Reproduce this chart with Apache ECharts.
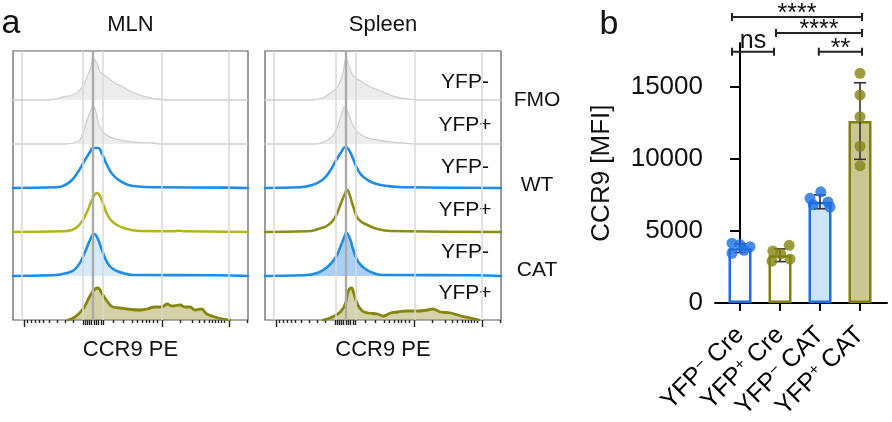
<!DOCTYPE html>
<html>
<head>
<meta charset="utf-8">
<script src="https://cdn.jsdelivr.net/npm/echarts@6.0.0/dist/echarts.min.js"></script>
<style>
html,body{margin:0;padding:0;background:#ffffff;}
#chart{width:892px;height:422px;}
</style>
</head>
<body>
<div id="chart"></div>
<script>
// ---------------- Panel a: CCR9 PE histograms ----------------
// x = display channel (0..235 across the plot box), y = relative cell count (0..44 per row)
const panelTitles = ['MLN', 'Spleen'];
const rowLabels = ['YFP-', 'YFP+', 'YFP-', 'YFP+', 'YFP-', 'YFP+'];
const groupLabels = ['FMO', 'WT', 'CAT'];
const axisTitle = 'CCR9 PE';
const gridLinesX = [9, 70, 80, 90, 149, 216];
const minorTicksX = [14, 18, 22, 26, 30, 36, 44, 52, 60, 100, 110, 119, 124, 129, 133, 136, 140, 144, 167, 179, 186, 191, 196, 199, 202, 205, 208, 211, 234];
const midTicksX = [70, 72, 74, 76, 78, 81, 83, 85, 88, 90];
const majorTicksX = [11, 149, 216];

const mlnFmoNeg = [[0,0],[35,0],[50,3],[62,6],[69,13],[74,23],[78,33],[80,41],[84,37],[87,28],[94,23],[102,17],[110,13],[119,8],[127,5],[137,2],[144,1],[157,0],[235,0]];
const mlnFmoPos = [[0,0],[52,0],[64,2],[70,11],[74,24],[78,34],[80,38],[83,32],[86,19],[90,12],[97,7],[107,4],[120,2],[140,1],[147,0],[235,0]];
const mlnWtNeg  = [[0,0],[44,0.7],[52,3],[59,8],[65,16],[72,28],[77,36],[80,40],[85,40],[89,34],[94,23],[100,13],[109,6],[120,2],[144,0.7],[214,0.4],[235,0]];
const mlnWtPos  = [[0,0],[49,0.7],[59,2],[67,8],[74,20],[79,32],[84,39],[87,36],[92,23],[97,13],[104,7],[114,3],[127,1],[160,0.7],[166,1.2],[172,0.7],[235,0]];
const mlnCatNeg = [[0,0],[37,0.7],[54,3],[64,9],[72,24],[77,36],[81,42],[84,39],[89,26],[94,14],[100,7],[110,3],[120,1],[204,0.7],[235,0]];
const mlnCatPos = [[55,0],[62,3],[70,11],[77,24],[82,31],[85,32],[88,28],[94,19],[100,13],[107,12],[114,11],[127,10],[134,11],[142,13],[149,13],[154,16],[159,14],[167,15],[172,13],[177,13],[182,10],[188,11],[194,6],[202,3],[210,1],[217,0]];

const splFmoNeg = [[0,0],[47,0],[57,2],[65,7],[72,13],[77,25],[81,41],[84,33],[88,24],[97,18],[105,13],[115,9],[125,5],[135,2],[147,0.7],[152,0],[235,0]];
const splFmoPos = [[0,0],[50,0],[60,3],[68,9],[73,20],[77,32],[79,37],[82,33],[87,20],[92,12],[100,7],[112,4],[125,2],[142,0.7],[148,0],[235,0]];
const splWtNeg  = [[0,0],[35,0.7],[47,3],[57,8],[64,16],[71,28],[76,36],[80,41],[83,39],[87,31],[92,19],[98,11],[108,5],[122,2],[138,0.7],[235,0]];
const splWtPos  = [[0,0],[42,0.7],[53,3],[63,7],[70,15],[75,27],[79,37],[82,42],[84,38],[88,25],[93,13],[102,7],[112,3],[125,1],[235,0]];
const splCatNeg = [[0,0],[38,0.7],[52,3],[62,9],[70,18],[75,29],[79,39],[81,43],[84,39],[88,26],[93,14],[100,7],[108,3],[118,1],[208,0.7],[235,0]];
const splCatPos = [[58,0],[67,3],[75,8],[80,16],[83,29],[86,32],[88,28],[92,16],[97,9],[103,7],[112,6],[118,4],[125,7],[132,8],[142,9],[152,9],[162,10],[167,11],[175,8],[185,7],[195,4],[205,2],[213,0]];

// ---------------- Panel b: CCR9 MFI bars ----------------
const groupMarker = ['\u2212', '+', '\u2212', '+'];
const groupSuffix = ['Cre', 'Cre', 'CAT', 'CAT'];
const barMeans = [3800, 3310, 7010, 12600];
const barSD = [300, 440, 480, 2650];
const dotValues = [
  [4150, 4050, 3900, 3450, 3650],
  [4000, 3600, 3400, 2900, 3050],
  [7700, 7250, 7000, 6800, 6650],
  [15900, 14400, 12900, 10850, 9500]
];
const dotOffsets = [
  [-0.2, 0, 0.25, -0.2, 0.1],
  [0.23, -0.18, 0.02, -0.2, 0.25],
  [0.02, -0.25, 0.2, -0.17, 0.25],
  [0, 0, 0, 0, 0]
];
const yTicks = [0, 5000, 10000, 15000];
const bracketSpans = [[-0.2, 3.05, 19800], [0.9, 3.05, 18700], [-0.2, 0.85, 17400], [1.97, 3.05, 17400]];
const bracketLabels = ['****', '****', 'ns', '**'];

// ---------------- styling ----------------
const FONT = '"Liberation Sans", Arial, Helvetica, sans-serif';
const BLUE = '#1f8de6';
const BAR_BLUE = '#1c6fe3';
const OLIVE = '#7f7f0a';
const FMO_STYLE = { line: '#d0d0d0', w: 1.3, fill: 'rgba(200,200,200,0.35)' };

const panels = [
  { left: 13, width: 235, data: [mlnFmoNeg, mlnFmoPos, mlnWtNeg, mlnWtPos, mlnCatNeg, mlnCatPos],
    styles: [FMO_STYLE, FMO_STYLE,
      { line: BLUE, w: 2.6 }, { line: '#b3b51e', w: 2.6 },
      { line: BLUE, w: 2.6, fill: 'rgba(160,205,245,0.42)' },
      { line: '#86860f', w: 2.8, fill: 'rgba(150,145,40,0.42)' }] },
  { left: 265, width: 236, data: [splFmoNeg, splFmoPos, splWtNeg, splWtPos, splCatNeg, splCatPos],
    styles: [FMO_STYLE, FMO_STYLE,
      { line: BLUE, w: 2.6 }, { line: '#8c8c16', w: 2.6 },
      { line: BLUE, w: 2.6, fill: 'rgba(100,170,240,0.55)' },
      { line: '#86860f', w: 2.8, fill: 'rgba(150,145,40,0.40)' }] }
];

const BOX_TOP = 51, ROW_H = 44, BASE0 = 100, NROW = 6;
const grids = [], xAxis = [], yAxis = [], series = [], graphic = [];

panels.forEach((p, pi) => {
  const gBox = grids.length;
  grids.push({ left: p.left, top: BOX_TOP, width: p.width, height: BASE0 + (NROW - 1) * ROW_H - BOX_TOP,
    show: true, borderColor: '#5c5c5c', borderWidth: 1.2, backgroundColor: 'transparent' });
  const yBox = yAxis.length;
  yAxis.push({ gridIndex: gBox, type: 'value', min: 0, max: 1, show: false });
  const xBox0 = xAxis.length;
  [[minorTicksX, 3], [midTicksX, 5], [majorTicksX, 7]].forEach(([vals, len]) => {
    xAxis.push({ gridIndex: gBox, type: 'value', min: 0, max: 235, position: 'bottom',
      axisLine: { show: false }, axisLabel: { show: false }, splitLine: { show: false },
      axisTick: { show: true, customValues: vals, length: len, inside: false, lineStyle: { color: '#222', width: 1.4 } } });
  });
  series.push({ type: 'line', xAxisIndex: xBox0, yAxisIndex: yBox, data: [[0, -5]], symbol: 'none',
    lineStyle: { width: 0 }, silent: true, z: 1, animation: false,
    markLine: { silent: true, symbol: ['none', 'none'], label: { show: false }, animation: false,
      data: gridLinesX.map((v, i) => ({ xAxis: v,
        lineStyle: { color: i === 2 ? '#ababab' : '#d8d8d8', width: i === 2 ? 2.4 : 1.5, type: 'solid' } })) } });
  p.data.forEach((d, r) => {
    const g = grids.length;
    grids.push({ left: p.left, width: p.width, top: BASE0 + r * ROW_H - ROW_H, height: ROW_H });
    const xi = xAxis.length, yi = yAxis.length;
    xAxis.push({ gridIndex: g, type: 'value', min: 0, max: 235, show: false });
    yAxis.push({ gridIndex: g, type: 'value', min: 0, max: ROW_H, show: false });
    const st = p.styles[r];
    const s = { type: 'line', xAxisIndex: xi, yAxisIndex: yi, data: d, smooth: 0.5,
      symbol: 'none', clip: false, silent: true, z: 3, animation: false,
      lineStyle: { color: st.line, width: st.w, join: 'round', cap: 'round' } };
    if (st.fill) s.areaStyle = { color: st.fill, opacity: 1 };
    series.push(s);
  });
  // titles
  const cx = p.left + p.width / 2;
  graphic.push({ type: 'text', x: cx, y: 25, style: { text: panelTitles[pi], font: '22px ' + FONT, fill: '#111', align: 'center', verticalAlign: 'middle' } });
  graphic.push({ type: 'text', x: cx, y: 350, style: { text: axisTitle, font: '22px ' + FONT, fill: '#111', align: 'center', verticalAlign: 'middle' } });
});

// row labels inside spleen box
const rowLabelY = [82, 125, 167, 210, 252, 293];
rowLabels.forEach((t, i) => {
  graphic.push({ type: 'text', x: 465, y: rowLabelY[i], style: { text: t, font: '21px ' + FONT, fill: '#111', align: 'center', verticalAlign: 'middle' } });
});
const groupLabelY = [100, 185, 270];
groupLabels.forEach((t, i) => {
  graphic.push({ type: 'text', x: 537, y: groupLabelY[i], style: { text: t, font: '21px ' + FONT, fill: '#111', align: 'center', verticalAlign: 'middle' } });
});
graphic.push({ type: 'text', x: 11, y: 24, style: { text: 'a', font: '34px ' + FONT, fill: '#111', align: 'center', verticalAlign: 'middle' } });
graphic.push({ type: 'text', x: 609, y: 25, style: { text: 'b', font: '34px ' + FONT, fill: '#111', align: 'center', verticalAlign: 'middle' } });

// ---------------- bar chart ----------------
const gBar = grids.length;
grids.push({ left: 715, right: 5, top: 43, bottom: 118 });
const xb = xAxis.length, yb = yAxis.length;
xAxis.push({ gridIndex: gBar, type: 'value', min: -0.625, max: 3.675,
  axisLine: { show: true, onZero: false, lineStyle: { color: '#000', width: 2 } },
  axisTick: { show: true, customValues: [0, 1, 2, 3], length: 8, lineStyle: { color: '#000', width: 2 } },
  axisLabel: { show: true, customValues: [0, 1, 2, 3], rotate: 45, margin: 28,
    formatter: v => { const i = Math.round(v); return '{n|YFP}{s|' + groupMarker[i] + '}{n| ' + groupSuffix[i] + '}'; },
    rich: { n: { fontSize: 25, fontFamily: FONT, color: '#000' },
            s: { fontSize: 16, fontFamily: FONT, color: '#000', verticalAlign: 'top' } } },
  splitLine: { show: false } });
yAxis.push({ gridIndex: gBar, type: 'value', min: 0, max: 18000,
  axisLine: { show: true, lineStyle: { color: '#000', width: 2 } },
  axisTick: { show: true, customValues: yTicks, length: 10, lineStyle: { color: '#000', width: 2 } },
  axisLabel: { show: true, customValues: yTicks, formatter: v => String(v), fontSize: 26, fontFamily: FONT, color: '#111', margin: 12 },
  splitLine: { show: false },
  name: 'CCR9 [MFI]', nameLocation: 'middle', nameGap: 100,
  nameTextStyle: { fontSize: 26, fontFamily: FONT, color: '#111' } });

const barFill = ['#ffffff', '#ffffff', '#cde3f9', '#cbc795'];
const barEdge = [BAR_BLUE, OLIVE, BAR_BLUE, OLIVE];
const dotColor = [BAR_BLUE, '#838312', BAR_BLUE, '#838312'];

series.push({ type: 'bar', xAxisIndex: xb, yAxisIndex: yb, barWidth: 23, z: 2, animation: false,
  data: barMeans.map((v, i) => ({ value: [i, v], itemStyle: { color: barFill[i], borderColor: barEdge[i], borderWidth: 2.5 } })) });

series.push({ type: 'custom', xAxisIndex: xb, yAxisIndex: yb, z: 3, animation: false, silent: true,
  encode: { x: 0, y: 1 },
  data: barMeans.map((m, i) => [i, m, barSD[i]]),
  renderItem: (params, api) => {
    const x = api.value(0), m = api.value(1), s = api.value(2);
    const t = api.coord([x, m + s]), b = api.coord([x, m - s]);
    const cw = 6, st = { stroke: '#333', lineWidth: 1.6 };
    return { type: 'group', children: [
      { type: 'line', shape: { x1: t[0], y1: t[1], x2: b[0], y2: b[1] }, style: st },
      { type: 'line', shape: { x1: t[0] - cw, y1: t[1], x2: t[0] + cw, y2: t[1] }, style: st },
      { type: 'line', shape: { x1: b[0] - cw, y1: b[1], x2: b[0] + cw, y2: b[1] }, style: st } ] };
  } });

const dots = [];
dotValues.forEach((arr, i) => arr.forEach((v, j) => dots.push({ value: [i + dotOffsets[i][j], v], itemStyle: { color: dotColor[i] } })));
series.push({ type: 'scatter', xAxisIndex: xb, yAxisIndex: yb, symbolSize: 11, z: 4, animation: false, silent: true, data: dots });

series.push({ type: 'custom', xAxisIndex: xb, yAxisIndex: yb, z: 5, animation: false, silent: true, clip: false,
  encode: { x: 0, y: 2 },
  data: bracketSpans,
  renderItem: (params, api) => {
    const a = api.coord([api.value(0), api.value(2)]), b = api.coord([api.value(1), api.value(2)]);
    const st = { stroke: '#222', lineWidth: 2 };
    const lab = bracketLabels[params.dataIndex];
    const isStar = lab.indexOf('*') >= 0;
    return { type: 'group', children: [
      { type: 'line', shape: { x1: a[0], y1: a[1], x2: b[0], y2: b[1] }, style: st },
      { type: 'line', shape: { x1: a[0], y1: a[1] - 4, x2: a[0], y2: a[1] + 4 }, style: st },
      { type: 'line', shape: { x1: b[0], y1: b[1] - 4, x2: b[0], y2: b[1] + 4 }, style: st },
      { type: 'text', x: (a[0] + b[0]) / 2, y: a[1] + (isStar ? -3 : -11),
        style: { text: lab, font: '25px ' + FONT, fill: '#111', align: 'center', verticalAlign: 'middle' } } ] };
  } });

const chart = echarts.init(document.getElementById('chart'));
chart.setOption({ animation: false, backgroundColor: '#ffffff', grid: grids, xAxis: xAxis, yAxis: yAxis, series: series, graphic: graphic });
</script>
</body>
</html>
